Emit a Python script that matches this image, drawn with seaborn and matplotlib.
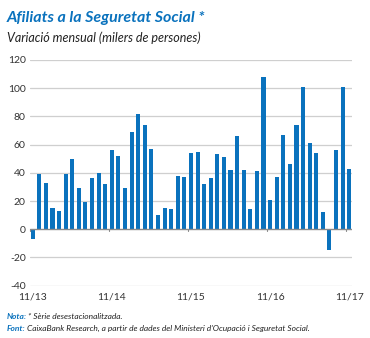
import matplotlib
matplotlib.use("Agg")
import matplotlib.pyplot as plt
import seaborn as sns
import pandas as pd

months = [p.strftime("%m/%y") for p in pd.period_range("2013-11", "2017-11", freq="M")]
values = [-7, 39, 33, 15, 13, 39, 50, 29, 19, 36, 40, 32,
          56, 52, 29, 69, 82, 74, 57, 10, 15, 14, 38, 37,
          54, 55, 32, 36, 53, 51, 42, 66, 42, 14, 41, 108,
          21, 37, 67, 46, 74, 101, 61, 54, 12, -15, 56, 101,
          43]
tick_labels = ["11/13", "11/14", "11/15", "11/16", "11/17"]
y_ticks = [-40, -20, 0, 20, 40, 60, 80, 100, 120]

title = "Afiliats a la Seguretat Social *"
subtitle = "Variació mensual (milers de persones)"

df = pd.DataFrame({"month": months, "value": values})

sns.set_style("white")
plt.rcParams["font.family"] = ["Lato", "DejaVu Sans"]

BLUE = "#0a72bd"
fig = plt.figure(figsize=(3.70, 3.38), dpi=100)
ax = fig.add_axes([0.081, 0.155, 0.870, 0.6675])

sns.barplot(data=df, x="month", y="value", order=months, color=BLUE,
            width=0.62, saturation=1, linewidth=0, ax=ax, zorder=3)

ax.set_ylim(-40, 120)
ax.set_xlim(-0.41, len(months) - 0.6)
ax.set_yticks(y_ticks)
ax.set_yticklabels([str(v) for v in y_ticks], fontsize=7.5, color="#333333")
for v in y_ticks:
    ax.axhline(v, color="#cfcfcf" if v != 0 else "#8a8a8a",
               lw=0.9 if v != 0 else 1.0, zorder=1 if v != 0 else 4)

pos = [months.index(t) for t in tick_labels]
ax.set_xticks(pos)
ax.set_xticklabels(tick_labels, fontsize=7.5, color="#333333")
ax.tick_params(axis="both", length=0, pad=3)
ax.tick_params(axis="x", pad=5)
ax.set_xlabel("")
ax.set_ylabel("")
for s in ax.spines.values():
    s.set_visible(False)

# small tick marks at the zero line
for p in pos:
    ax.plot([p - 0.45, p - 0.45], [0, -1.5], color="#8a8a8a", lw=0.8, zorder=4,
            clip_on=False)

fig.text(0.019, 0.935, title, fontsize=11.5, fontweight="bold", style="italic",
         color=BLUE, ha="left", va="baseline")
fig.text(0.019, 0.877, subtitle, fontsize=9, style="italic", color="#222222",
         ha="left", va="baseline")

fig.text(0.019, 0.055, "Nota:", fontsize=6, fontweight="bold", style="italic",
         color=BLUE, ha="left", va="baseline")
fig.text(0.075, 0.055, "* Sèrie desestacionalitzada.", fontsize=6, style="italic",
         color="#222222", ha="left", va="baseline")
fig.text(0.019, 0.022, "Font:", fontsize=6, fontweight="bold", style="italic",
         color=BLUE, ha="left", va="baseline")
fig.text(0.072, 0.022, "CaixaBank Research, a partir de dades del Ministeri d'Ocupació i Seguretat Social.",
         fontsize=6, style="italic", color="#222222", ha="left", va="baseline")

fig.savefig("out.png", dpi=100)
